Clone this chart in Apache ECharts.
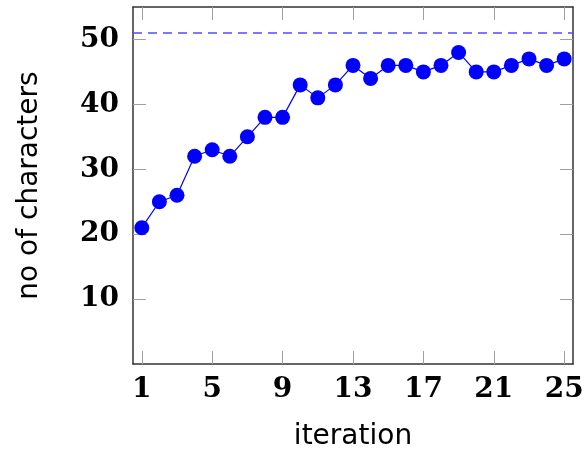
<!DOCTYPE html>
<html>
<head>
	<meta charset="UTF-8">
	<title>no of characters</title>
	<script src="https://cdn.jsdelivr.net/npm/echarts@6/dist/echarts.min.js"></script>
	<style>
		html, body { margin: 0; padding: 0; background: #fff; }
		#graph { width: 585px; height: 452px; }
	</style>
</head>
<body>
	<div id="graph"></div>
	<script>
		// values
		var iterations = [1, 2, 3, 4, 5, 6, 7, 8, 9, 10, 11, 12, 13, 14, 15, 16, 17, 18, 19, 20, 21, 22, 23, 24, 25];
		var charCounts = [21, 25, 26, 32, 33, 32, 35, 38, 38, 43, 41, 43, 46, 44, 46, 46, 45, 46, 48, 45, 45, 46, 47, 46, 47];
		var targetCount = 51;
		var xTicks = [1, 5, 9, 13, 17, 21, 25];
		var yTicks = [10, 20, 30, 40, 50];

		var chart = echarts.init(document.getElementById('graph'), null, { renderer: 'canvas' });

		var frame = { show: true, onZero: false, lineStyle: { color: '#333', width: 1.5 } };
		var tick = { show: true, inside: true, length: 13, lineStyle: { color: '#a0a0a0', width: 1 } };
		var labelFont = { fontFamily: 'DejaVu Serif', fontWeight: 'bold', fontSize: 28, color: '#000' };
		var nameFont = { fontFamily: 'DejaVu Sans', fontSize: 28, color: '#000' };

		var points = iterations.map(function (it, i) { return [it, charCounts[i]]; });

		chart.setOption({
			animation: false,
			grid: { left: 133, right: 12, top: 7, bottom: 88, outerBoundsMode: 'none', containLabel: false },
			xAxis: [{
				type: 'value', min: 0.5, max: 25.5,
				name: 'iteration', nameLocation: 'middle', nameGap: 59,
				nameTextStyle: nameFont,
				axisLine: frame,
				axisTick: Object.assign({ customValues: xTicks }, tick),
				axisLabel: Object.assign({ customValues: xTicks, margin: 12 }, labelFont),
				splitLine: { show: false }
			}, {
				type: 'value', min: 0.5, max: 25.5, position: 'top',
				axisLine: frame,
				axisTick: Object.assign({ customValues: xTicks }, tick),
				axisLabel: { show: false },
				splitLine: { show: false }
			}],
			yAxis: [{
				type: 'value', min: 0, max: 55,
				name: 'no of characters', nameLocation: 'middle', nameGap: 89, nameRotate: 90,
				nameTextStyle: nameFont,
				axisLine: frame,
				axisTick: Object.assign({ customValues: yTicks }, tick),
				axisLabel: Object.assign({ customValues: yTicks, margin: 14 }, labelFont),
				splitLine: { show: false }
			}, {
				type: 'value', min: 0, max: 55, position: 'right',
				axisLine: frame,
				axisTick: Object.assign({ customValues: yTicks }, tick),
				axisLabel: { show: false },
				splitLine: { show: false }
			}],
			series: [{
				type: 'line',
				data: points,
				symbol: 'circle',
				symbolSize: 15,
				itemStyle: { color: '#0000ff' },
				lineStyle: { color: '#0000ff', width: 1.2 },
				markLine: {
					silent: true,
					symbol: 'none',
					label: { show: false },
					lineStyle: { color: '#4d4dff', type: [9, 6], width: 1.5 },
					data: [{ yAxis: targetCount }]
				}
			}]
		});
	</script>
</body>
</html>
